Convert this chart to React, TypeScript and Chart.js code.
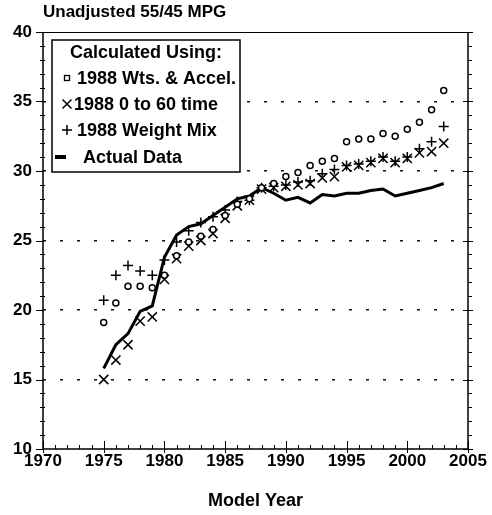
import React, { useEffect, useRef } from 'react';
import { Chart, registerables } from 'chart.js';

Chart.register(...registerables);

const years = [1975, 1976, 1977, 1978, 1979, 1980, 1981, 1982, 1983, 1984, 1985, 1986, 1987, 1988, 1989, 1990, 1991, 1992, 1993, 1994, 1995, 1996, 1997, 1998, 1999, 2000, 2001, 2002, 2003];
const actualData = [15.8, 17.5, 18.3, 19.9, 20.3, 23.8, 25.4, 26.0, 26.2, 26.8, 27.4, 28.0, 28.2, 28.8, 28.4, 27.9, 28.1, 27.7, 28.3, 28.2, 28.4, 28.4, 28.6, 28.7, 28.2, 28.4, 28.6, 28.8, 29.1];
const wtsAccel = [19.1, 20.5, 21.7, 21.7, 21.6, 22.5, 23.9, 24.9, 25.3, 25.8, 26.8, 27.6, 28.0, 28.8, 29.1, 29.6, 29.9, 30.4, 30.7, 30.9, 32.1, 32.3, 32.3, 32.7, 32.5, 33.0, 33.5, 34.4, 35.8];
const zeroTo60 = [15.0, 16.4, 17.5, 19.2, 19.5, 22.2, 23.7, 24.6, 25.0, 25.5, 26.6, 27.5, 27.9, 28.7, 28.8, 28.9, 29.0, 29.1, 29.5, 29.6, 30.3, 30.4, 30.6, 30.9, 30.6, 30.9, 31.3, 31.4, 32.0];
const weightMix = [20.7, 22.5, 23.2, 22.8, 22.5, 23.6, 24.9, 25.7, 26.3, 26.7, 27.2, 27.8, 27.9, 28.8, 28.9, 29.0, 29.2, 29.3, 29.8, 30.1, 30.4, 30.5, 30.7, 31.0, 30.7, 31.0, 31.6, 32.1, 33.2];

const seriesLabels = ['1988 Wts. & Accel.', '1988 0 to 60 time', '1988 Weight Mix', 'Actual Data'];
const legendTitle = 'Calculated Using:';
const chartTitle = 'Unadjusted 55/45 MPG';
const xAxisTitle = 'Model Year';
const xMin = 1970;
const xMax = 2005;
const yMin = 10;
const yMax = 40;

const FONT = "'Liberation Sans', Arial, Helvetica, sans-serif";

const toPoints = (vals: number[]) => years.map((yr, i) => ({ x: yr, y: vals[i] }));

const framePlugin = {
  id: 'frameAndLegend',
  afterDatasetsDraw(chart: any) {
    const { ctx, chartArea: a, scales } = chart;
    const x = scales.x;
    const y = scales.y;
    ctx.save();
    ctx.strokeStyle = '#000';
    // frame
    ctx.lineWidth = 1;
    ctx.beginPath();
    ctx.moveTo(a.left, a.top + 0.5);
    ctx.lineTo(a.right, a.top + 0.5);
    ctx.stroke();
    ctx.lineWidth = 1.5;
    ctx.beginPath();
    ctx.moveTo(a.left, a.top);
    ctx.lineTo(a.left, a.bottom);
    ctx.lineTo(a.right, a.bottom);
    ctx.lineTo(a.right, a.top);
    ctx.stroke();
    // y ticks (left and right)
    ctx.lineWidth = 1;
    for (let v = yMin; v <= yMax; v++) {
      const py = Math.round(y.getPixelForValue(v)) + 0.5;
      const major = v % 5 === 0;
      ctx.beginPath();
      if (major) {
        ctx.moveTo(a.left - 7, py); ctx.lineTo(a.left + 1, py);
        ctx.moveTo(a.right - 5, py); ctx.lineTo(a.right + 5, py);
      } else {
        ctx.moveTo(a.left - 3, py); ctx.lineTo(a.left + 2, py);
        ctx.moveTo(a.right, py); ctx.lineTo(a.right + 4, py);
      }
      ctx.stroke();
    }
    // x ticks
    for (let v = xMin; v <= xMax; v++) {
      const px = Math.round(x.getPixelForValue(v)) + 0.5;
      const major = v % 5 === 0;
      ctx.beginPath();
      if (major) {
        ctx.moveTo(px, a.bottom - 8); ctx.lineTo(px, a.bottom + 4);
      } else {
        ctx.moveTo(px, a.bottom - 4); ctx.lineTo(px, a.bottom);
      }
      ctx.stroke();
    }
    // legend box
    const bx = 52, by = 40, bw = 188, bh = 132;
    ctx.fillStyle = '#fff';
    ctx.fillRect(bx, by, bw, bh);
    ctx.lineWidth = 1.5;
    ctx.strokeRect(bx, by, bw, bh);
    ctx.fillStyle = '#000';
    ctx.font = `bold 18px ${FONT}`;
    ctx.textBaseline = 'middle';
    ctx.textAlign = 'center';
    ctx.fillText(legendTitle, bx + bw / 2, 53);
    ctx.textAlign = 'left';
    const rows = [78, 104, 130, 157];
    const sx = 67;
    const tx = 77;
    // symbol 0: small hollow square
    ctx.lineWidth = 1.3;
    ctx.strokeRect(sx - 2.5, rows[0] - 2.5, 5, 5);
    // symbol 1: X
    ctx.lineWidth = 1.5;
    ctx.beginPath();
    ctx.moveTo(sx - 4.5, rows[1] - 4.5); ctx.lineTo(sx + 4.5, rows[1] + 4.5);
    ctx.moveTo(sx + 4.5, rows[1] - 4.5); ctx.lineTo(sx - 4.5, rows[1] + 4.5);
    ctx.stroke();
    // symbol 2: +
    ctx.beginPath();
    ctx.moveTo(sx - 5, rows[2]); ctx.lineTo(sx + 5, rows[2]);
    ctx.moveTo(sx, rows[2] - 5); ctx.lineTo(sx, rows[2] + 5);
    ctx.stroke();
    // symbol 3: thick line
    ctx.lineWidth = 4;
    ctx.beginPath();
    ctx.moveTo(sx - 12, rows[3]); ctx.lineTo(sx - 1, rows[3]);
    ctx.stroke();
    const textX = [tx, tx - 3, tx, tx + 6];
    seriesLabels.forEach((lab, i) => ctx.fillText(lab, textX[i], rows[i] + 1));
    ctx.restore();
  },
};

export default function App() {
  const canvasRef = useRef<HTMLCanvasElement | null>(null);

  useEffect(() => {
    const canvas = canvasRef.current;
    if (!canvas) return;
    const chart = new Chart(canvas, {
      type: 'line',
      data: {
        datasets: [
          {
            label: seriesLabels[0],
            data: toPoints(wtsAccel),
            showLine: false,
            pointStyle: 'circle',
            pointRadius: 3,
            pointBorderWidth: 1.5,
            pointBorderColor: '#000',
            pointBackgroundColor: '#fff',
            borderColor: '#000',
            backgroundColor: '#fff',
          },
          {
            label: seriesLabels[1],
            data: toPoints(zeroTo60),
            showLine: false,
            pointStyle: 'crossRot',
            pointRadius: 6.5,
            pointBorderWidth: 1.5,
            pointBorderColor: '#000',
            borderColor: '#000',
          },
          {
            label: seriesLabels[2],
            data: toPoints(weightMix),
            showLine: false,
            pointStyle: 'cross',
            pointRadius: 5,
            pointBorderWidth: 1.5,
            pointBorderColor: '#000',
            borderColor: '#000',
          },
          {
            label: seriesLabels[3],
            data: toPoints(actualData),
            borderColor: '#000',
            borderWidth: 3,
            pointRadius: 0,
            tension: 0,
            fill: false,
          },
        ],
      },
      options: {
        responsive: false,
        animation: false,
        devicePixelRatio: 1,
        layout: { padding: { left: 0, right: 24, top: 0, bottom: 0 } },
        plugins: {
          legend: { display: false },
          tooltip: { enabled: false },
          title: {
            display: true,
            text: chartTitle,
            align: 'start',
            fullSize: false,
            color: '#000',
            font: { family: FONT, size: 17, weight: 'bold' },
            padding: { top: 2, bottom: 9.6 },
          },
        },
        scales: {
          x: {
            type: 'linear',
            min: xMin,
            max: xMax,
            grid: { display: false, drawTicks: false },
            border: { display: false },
            ticks: {
              stepSize: 5,
              padding: 2,
              color: '#000',
              font: { family: FONT, size: 17, weight: 'bold' },
              callback: (v: any) => String(v),
            },
            title: {
              display: true,
              text: xAxisTitle,
              color: '#000',
              font: { family: FONT, size: 18, weight: 'bold' },
              padding: { top: 0, bottom: 3 },
            },
            afterFit: (scale: any) => { scale.height = 66; },
          },
          y: {
            min: yMin,
            max: yMax,
            grid: {
              display: true,
              drawTicks: false,
              lineWidth: 1.5,
              color: (c: any) => {
                const v = c.tick ? c.tick.value : null;
                return v !== null && v > yMin && v < yMax ? '#111' : 'rgba(0,0,0,0)';
              },
            },
            border: { display: false, dash: [3, 14] },
            ticks: {
              stepSize: 5,
              padding: 11,
              color: '#000',
              font: { family: FONT, size: 17, weight: 'bold' },
            },
            afterFit: (scale: any) => { scale.width = 43; },
          },
        },
      },
      plugins: [framePlugin],
    });
    return () => chart.destroy();
  }, []);

  return (
    <div style={{ position: 'absolute', left: 0, top: 0, width: 492, height: 515, background: '#fff' }}>
      <canvas ref={canvasRef} width={492} height={515} />
    </div>
  );
}
